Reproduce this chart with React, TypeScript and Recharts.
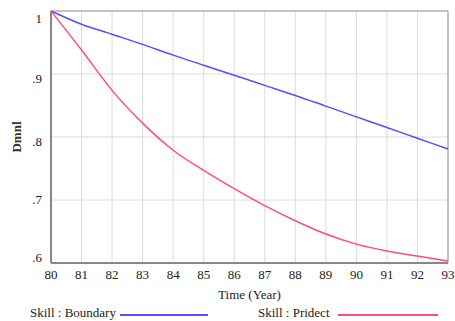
import { CartesianGrid, Label, Line, LineChart, ReferenceArea, XAxis, YAxis } from 'recharts';

const years = [80, 81, 82, 83, 84, 85, 86, 87, 88, 89, 90, 91, 92, 93];
const boundary = [1.0, 0.979, 0.963, 0.947, 0.93, 0.914, 0.898, 0.882, 0.866, 0.849, 0.832, 0.815, 0.798, 0.781];
const pridect = [1.0, 0.938, 0.874, 0.822, 0.779, 0.747, 0.718, 0.691, 0.667, 0.646, 0.63, 0.619, 0.611, 0.603];
const yTicks = [0.6, 0.7, 0.8, 0.9, 1.0];
const yTickLabels = ['.6', '.7', '.8', '.9', '1'];

const data = years.map((year, i) => ({ year, boundary: boundary[i], pridect: pridect[i] }));

const font = '"Liberation Serif", "DejaVu Serif", serif';
const blue = '#5050ff';
const red = '#ff4d79';

const yShift: Record<string, number> = { '1': 7, '.9': 4, '.8': 4, '.7': -1, '.6': -6 };

const YTick = ({ x, y, payload }: any) => {
  const idx = yTicks.indexOf(payload.value);
  const label = idx >= 0 ? yTickLabels[idx] : String(payload.value);
  return (
    <text
      x={x}
      y={y + (yShift[label] ?? 0)}
      textAnchor="end"
      dominantBaseline="central"
      fontFamily={font}
      fontSize={13}
      fill="#222"
    >
      {label}
    </text>
  );
};

export default function App() {
  return (
    <div style={{ position: 'absolute', left: 0, top: 0, width: 455, height: 321, background: '#fff', overflow: 'hidden' }}>
      <LineChart width={455} height={321} data={data} margin={{ top: 11, right: 7, bottom: 18, left: 11 }}>
        <CartesianGrid stroke="#dcdcdc" strokeWidth={1} />
        <XAxis
          dataKey="year"
          type="number"
          domain={[80, 93]}
          ticks={years}
          interval={0}
          height={40}
          tickSize={0}
          tickMargin={7}
          axisLine={{ stroke: '#888', strokeWidth: 2 }}
          tick={{ fontFamily: font, fontSize: 13, fill: '#222' }}
        >
          <Label
            value="Time (Year)"
            position="insideBottom"
            offset={4}
            style={{ fontFamily: font, fontSize: 13, fill: '#222' }}
          />
        </XAxis>
        <YAxis
          type="number"
          domain={[0.6, 1.0]}
          ticks={yTicks}
          width={40}
          tickSize={0}
          tickMargin={9}
          axisLine={{ stroke: '#888', strokeWidth: 2 }}
          tick={<YTick />}
        >
          <Label
            content={() => (
              <text
                x={16}
                y={137}
                transform="rotate(-90 16 137)"
                textAnchor="middle"
                dominantBaseline="central"
                fontFamily={font}
                fontSize={13}
                fontWeight="bold"
                fill="#333"
              >
                Dmnl
              </text>
            )}
          />
        </YAxis>
        <ReferenceArea x1={80} x2={93} y1={0.6} y2={1.0} fill="none" stroke="#999" strokeWidth={1} ifOverflow="visible" />
        <Line type="monotone" dataKey="boundary" stroke={blue} strokeWidth={1.5} dot={false} isAnimationActive={false} />
        <Line type="monotone" dataKey="pridect" stroke={red} strokeWidth={1.5} dot={false} isAnimationActive={false} />
      </LineChart>
      <div
        style={{
          position: 'absolute',
          top: 305,
          left: 0,
          width: 455,
          height: 16,
          fontFamily: font,
          fontSize: 13,
          color: '#222',
          lineHeight: '15px',
        }}
      >
        <span style={{ position: 'absolute', left: 30 }}>Skill : Boundary</span>
        <span style={{ position: 'absolute', left: 120, top: 9, width: 88, height: 0, borderTop: `2px solid ${blue}` }} />
        <span style={{ position: 'absolute', left: 258 }}>Skill : Pridect</span>
        <span style={{ position: 'absolute', left: 338, top: 9, width: 100, height: 0, borderTop: `2px solid ${red}` }} />
      </div>
    </div>
  );
}
